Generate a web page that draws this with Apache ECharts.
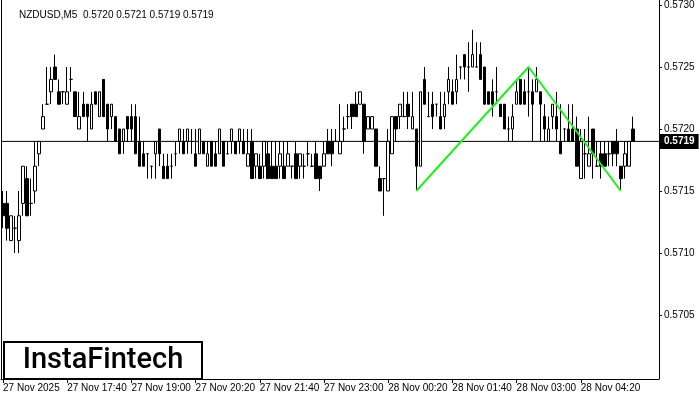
<!DOCTYPE html>
<html><head><meta charset="utf-8">
<script src="https://cdn.jsdelivr.net/npm/echarts@6/dist/echarts.min.js"></script>
<style>html,body{margin:0;padding:0;background:#fff}#c{width:700px;height:400px}</style>
</head><body><div id="c"></div>
<script>
const headerText = 'NZDUSD,M5  0.5720 0.5721 0.5719 0.5719';
const logoText = 'InstaFintech';

const opens = [
0.5714,0.5714,0.5711,0.5712,0.5711,0.5714,0.5716,0.5714,0.5715,0.5718,
0.5720,0.5722,0.5723,0.5725,0.5723,0.5723,0.5722,0.5724,0.5723,0.5720,
0.5722,0.5722,0.5720,0.5723,0.5721,0.5724,0.5722,0.5721,0.5721,0.5720,
0.5719,0.5721,0.5721,0.5721,0.5719,0.5718,0.5718,0.5717,0.5718,0.5720,
0.5717,0.5717,0.5717,0.5718,0.5719,0.5719,0.5719,0.5719,0.5718,0.5718,
0.5719,0.5717,0.5719,0.5718,0.5718,0.5719,0.5718,0.5719,0.5719,0.5719,
0.5719,0.5717,0.5719,0.5717,0.5717,0.5717,0.5718,0.5717,0.5717,0.5717,
0.5717,0.5717,0.5717,0.5718,0.5717,0.5717,0.5718,0.5717,0.5718,0.5717,
0.5717,0.5719,0.5719,0.5719,0.5718,0.5720,0.5721,0.5722,0.5722,0.5722,
0.5722,0.5720,0.5720,0.5720,0.5716,0.5716,0.5715,0.5718,0.5721,0.5721,
0.5721,0.5722,0.5720,0.5720,0.5717,0.5724,0.5721,0.5722,0.5722,0.5721,
0.5721,0.5723,0.5723,0.5723,0.5725,0.5726,0.5725,0.5725,0.5725,0.5726,
0.5725,0.5723,0.5723,0.5723,0.5722,0.5722,0.5720,0.5720,0.5722,0.5724,
0.5723,0.5723,0.5723,0.5723,0.5723,0.5721,0.5719,0.5721,0.5721,0.5719,
0.5720,0.5720,0.5720,0.5720,0.5716,0.5718,0.5717,0.5720,0.5717,0.5718,
0.5718,0.5718,0.5719,0.5719,0.5717,0.5717,0.5717,0.5720];

const highs = [
0.5715,0.5715,0.5713,0.5713,0.5715,0.5717,0.5717,0.5716,0.5719,0.5719,
0.5722,0.5725,0.5725,0.5726,0.5724,0.5723,0.5725,0.5725,0.5723,0.5723,
0.5723,0.5722,0.5723,0.5723,0.5723,0.5724,0.5722,0.5722,0.5721,0.5720,
0.5720,0.5721,0.5722,0.5722,0.5721,0.5719,0.5718,0.5717,0.5719,0.5720,
0.5718,0.5718,0.5718,0.5719,0.5720,0.5720,0.5720,0.5720,0.5720,0.5720,
0.5719,0.5719,0.5719,0.5719,0.5720,0.5719,0.5719,0.5720,0.5719,0.5720,
0.5720,0.5720,0.5720,0.5718,0.5718,0.5719,0.5719,0.5719,0.5719,0.5719,
0.5719,0.5719,0.5717,0.5719,0.5718,0.5718,0.5719,0.5718,0.5719,0.5717,
0.5719,0.5720,0.5720,0.5720,0.5722,0.5721,0.5722,0.5722,0.5723,0.5723,
0.5722,0.5721,0.5721,0.5720,0.5717,0.5716,0.5720,0.5721,0.5721,0.5722,
0.5723,0.5723,0.5723,0.5720,0.5723,0.5725,0.5723,0.5723,0.5722,0.5723,
0.5723,0.5725,0.5724,0.5726,0.5725,0.5726,0.5727,0.5728,0.5727,0.5727,
0.5725,0.5723,0.5724,0.5725,0.5722,0.5722,0.5721,0.5722,0.5724,0.5724,
0.5724,0.5725,0.5724,0.5725,0.5723,0.5722,0.5721,0.5722,0.5723,0.5722,
0.5720,0.5722,0.5722,0.5721,0.5720,0.5720,0.5721,0.5720,0.5719,0.5719,
0.5719,0.5719,0.5719,0.5720,0.5717,0.5719,0.5719,0.5721];

const lows = [
0.5712,0.5711,0.5711,0.5710,0.5710,0.5713,0.5713,0.5713,0.5714,0.5717,
0.5720,0.5722,0.5722,0.5724,0.5722,0.5722,0.5722,0.5723,0.5721,0.5720,
0.5721,0.5719,0.5720,0.5722,0.5721,0.5721,0.5719,0.5720,0.5719,0.5718,
0.5718,0.5719,0.5719,0.5718,0.5717,0.5717,0.5716,0.5716,0.5716,0.5717,
0.5716,0.5716,0.5716,0.5717,0.5718,0.5718,0.5718,0.5718,0.5717,0.5718,
0.5718,0.5717,0.5717,0.5717,0.5718,0.5717,0.5718,0.5718,0.5718,0.5718,
0.5718,0.5717,0.5716,0.5716,0.5716,0.5716,0.5716,0.5716,0.5716,0.5716,
0.5716,0.5717,0.5716,0.5716,0.5716,0.5716,0.5717,0.5717,0.5716,0.5715,
0.5717,0.5718,0.5717,0.5719,0.5718,0.5719,0.5720,0.5720,0.5721,0.5722,
0.5718,0.5720,0.5720,0.5717,0.5715,0.5713,0.5715,0.5718,0.5719,0.5720,
0.5721,0.5720,0.5720,0.5715,0.5717,0.5722,0.5721,0.5720,0.5721,0.5720,
0.5720,0.5722,0.5722,0.5722,0.5724,0.5724,0.5723,0.5725,0.5725,0.5724,
0.5722,0.5722,0.5721,0.5722,0.5721,0.5720,0.5719,0.5719,0.5722,0.5722,
0.5722,0.5721,0.5719,0.5723,0.5719,0.5719,0.5719,0.5720,0.5719,0.5718,
0.5719,0.5719,0.5719,0.5717,0.5716,0.5716,0.5717,0.5716,0.5717,0.5716,
0.5717,0.5717,0.5717,0.5717,0.5715,0.5716,0.5717,0.5719];

const closes = [
0.5713,0.5712,0.5713,0.5712,0.5713,0.5717,0.5713,0.5714,0.5717,0.5719,
0.5721,0.5722,0.5724,0.5724,0.5722,0.5723,0.5723,0.5724,0.5721,0.5721,
0.5721,0.5721,0.5722,0.5722,0.5723,0.5721,0.5720,0.5722,0.5719,0.5718,
0.5720,0.5720,0.5720,0.5718,0.5717,0.5717,0.5718,0.5717,0.5719,0.5718,
0.5716,0.5716,0.5717,0.5718,0.5720,0.5718,0.5720,0.5719,0.5717,0.5720,
0.5718,0.5718,0.5717,0.5717,0.5720,0.5717,0.5718,0.5720,0.5718,0.5720,
0.5718,0.5718,0.5716,0.5718,0.5716,0.5719,0.5716,0.5716,0.5716,0.5718,
0.5716,0.5718,0.5717,0.5716,0.5718,0.5717,0.5718,0.5717,0.5716,0.5716,
0.5718,0.5718,0.5718,0.5719,0.5719,0.5720,0.5721,0.5721,0.5721,0.5723,
0.5719,0.5721,0.5721,0.5717,0.5715,0.5716,0.5719,0.5721,0.5720,0.5722,
0.5721,0.5721,0.5721,0.5717,0.5723,0.5722,0.5721,0.5721,0.5722,0.5720,
0.5722,0.5724,0.5722,0.5724,0.5725,0.5725,0.5725,0.5726,0.5725,0.5724,
0.5722,0.5722,0.5722,0.5723,0.5721,0.5720,0.5720,0.5721,0.5723,0.5722,
0.5722,0.5723,0.5722,0.5724,0.5722,0.5720,0.5720,0.5722,0.5720,0.5718,
0.5720,0.5719,0.5719,0.5717,0.5719,0.5718,0.5718,0.5718,0.5717,0.5717,
0.5717,0.5718,0.5718,0.5718,0.5716,0.5718,0.5719,0.5719];

const yTicks = [0.5705, 0.5710, 0.5715, 0.5720, 0.5725, 0.5730];
const xTickLabels = ['27 Nov 2025','27 Nov 17:40','27 Nov 19:00','27 Nov 20:20','27 Nov 21:40',
  '27 Nov 23:00','28 Nov 00:20','28 Nov 01:40','28 Nov 03:00','28 Nov 04:20'];
const barsPerLabel = 16;
const emptyBars = 6;
const patternIdx = [103, 131, 154];
const patternVal = [0.5715, 0.5725, 0.5715];
const yMin = 0.569984, yMax = 0.573040;

const nBars = opens.length;
const categories = [];
for (let i = 0; i < nBars + emptyBars; i++) categories.push(String(i));
const candleData = opens.map((o, i) => [o, closes[i], lows[i], highs[i]]);
const lastClose = closes[nBars - 1];
const patternData = patternIdx.map((x, k) => [x, patternVal[k]]);
const isLabel = (idx) => idx % barsPerLabel === 0 && idx / barsPerLabel < xTickLabels.length;

const chart = echarts.init(document.getElementById('c'), null, {renderer: 'canvas'});
chart.setOption({
  animation: false,
  backgroundColor: '#fff',
  title: {
    text: headerText, left: 14, top: 5,
    textStyle: {fontSize: 10, fontWeight: 'normal', color: '#000', fontFamily: 'Liberation Sans'}
  },
  grid: {left: 1, right: 41, top: 0, bottom: 21},
  xAxis: [{
    type: 'category', data: categories, boundaryGap: true,
    axisLine: {show: true, onZero: false, lineStyle: {color: '#000', width: 1}},
    axisTick: {show: true, alignWithLabel: true, length: 4, interval: (idx) => isLabel(idx), lineStyle: {color: '#000'}},
    axisLabel: {
      show: true, interval: (idx) => isLabel(idx), align: 'left', margin: 4,
      fontSize: 10, color: '#000', fontFamily: 'Liberation Sans',
      formatter: (v, idx) => xTickLabels[idx / barsPerLabel] || ''
    },
    splitLine: {show: false}
  }, {
    type: 'value', min: 0, max: 1, show: false
  }],
  yAxis: [{
    type: 'value', position: 'right', min: yMin, max: yMax, scale: true,
    axisLine: {show: true, onZero: false, lineStyle: {color: '#000', width: 1}},
    axisTick: {show: true, length: 3, customValues: yTicks, lineStyle: {color: '#000'}},
    axisLabel: {show: true, margin: 5, fontSize: 10, color: '#000', fontFamily: 'Liberation Sans',
      customValues: yTicks, formatter: (v) => v.toFixed(4)},
    splitLine: {show: false}
  }, {
    type: 'value', position: 'left', min: yMin, max: yMax,
    axisLine: {show: true, onZero: false, lineStyle: {color: '#000', width: 1}},
    axisTick: {show: false}, axisLabel: {show: false}, splitLine: {show: false}
  }],
  series: [{
    type: 'candlestick', data: candleData, barWidth: 3,
    itemStyle: {color: '#fff', color0: '#000', borderColor: '#000', borderColor0: '#000', borderWidth: 1}
  }, {
    type: 'line', xAxisIndex: 1, yAxisIndex: 0, data: [[0, lastClose], [1, lastClose]],
    symbol: 'none', z: 1, silent: true, clip: false,
    lineStyle: {color: '#000', width: 1},
    endLabel: {show: true, distance: 1, formatter: () => lastClose.toFixed(4),
      color: '#fff', backgroundColor: '#000', padding: [3, 4, 2, 4], fontSize: 10,
      fontFamily: 'Liberation Sans', fontWeight: 'bold'}
  }, {
    type: 'line', data: patternData, symbol: 'none', z: 5,
    lineStyle: {color: '#1ef01e', width: 2}
  }],
  graphic: [{
    type: 'group', left: 3, top: 341, children: [
      {type: 'rect', shape: {x: 0, y: 0, width: 198, height: 37}, style: {fill: '#fff', stroke: '#000', lineWidth: 2}},
      {type: 'text', x: 99, y: 19, style: {text: logoText, fill: '#000', font: '500 29px Roboto', align: 'center', verticalAlign: 'middle'}}
    ]
  }]
});
</script></body></html>
